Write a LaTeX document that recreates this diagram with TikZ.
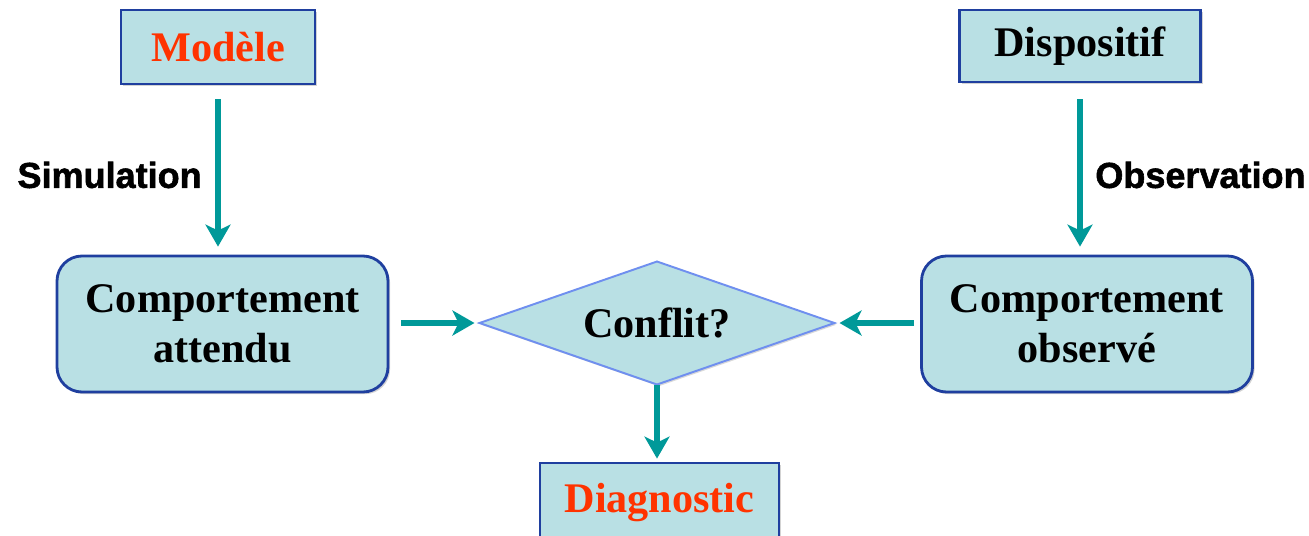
\documentclass[tikz,border=0pt]{standalone}
\usepackage{fontspec}
\setmainfont{Liberation Serif}
\newfontfamily\labelfont[BoldFeatures={FakeBold=1.6}]{Liberation Sans}
\definecolor{boxfill}{HTML}{B9E0E4}
\definecolor{boxdraw}{HTML}{1F3F9F}
\definecolor{diamdraw}{HTML}{6F8FEF}
\definecolor{arrowteal}{HTML}{009999}
\definecolor{redtext}{HTML}{FF3300}
\usetikzlibrary{shapes.geometric, arrows.meta, shadows}
\tikzset{
	boxnode/.style={
			rectangle,
			draw=boxdraw,
			fill=boxfill,
			line width=1.6pt,
			font=\bfseries\fontsize{24}{28.5}\selectfont,
			align=center,
			inner sep=0pt,
			drop shadow={shadow xshift=1.2pt, shadow yshift=-1.2pt, opacity=0.35}
		},
	titlenode/.style={
			boxnode,
			text=redtext
		},
	roundnode/.style={
			boxnode,
			rounded corners=0.5cm,
			minimum width=6.62cm,
			minimum height=2.72cm
		},
	decisionnode/.style={
			diamond,
			aspect=2.9,
			draw=diamdraw,
			fill=boxfill,
			line width=1.1pt,
			inner sep=0pt,
			outer sep=0pt,
			minimum width=7.1cm,
			minimum height=2.46cm,
			font=\bfseries\fontsize{24}{28.5}\selectfont,
			drop shadow={shadow xshift=1pt, shadow yshift=-1pt, opacity=0.3}
		},
	flowlabel/.style={
			font=\labelfont\bfseries\fontsize{20.5}{24}\selectfont,
			inner sep=0pt
		},
	flowarrow/.style={
			draw=arrowteal,
			line width=3.4pt,
			-{Stealth[length=4.4mm, width=5mm, inset=1.2mm]}
		}
}
\begin{document}
\begin{tikzpicture}
\useasboundingbox (0,0) rectangle (26.18,-10.7);
\node[titlenode, minimum width=3.88cm, minimum height=1.48cm] (modele) at (4.36,-0.94) {Modèle};
\node[boxnode, minimum width=4.82cm, minimum height=1.44cm] (dispositif) at (21.6,-0.92) {Dispositif};
\node[roundnode] (attendu) at (4.45,-6.48) {Comportement\\attendu};
\node[roundnode] (observe) at (21.74,-6.48) {Comportement\\observé};
\node[decisionnode] (conflit) at (13.14,-6.46) {Conflit?};
\node[titlenode, minimum width=4.78cm, minimum height=1.6cm] (diagnostic) at (13.19,-10.06) {Diagnostic};

\node[flowlabel, anchor=east] (simulation) at (4.04,-3.5) {Simulation};
\node[flowlabel, anchor=west] (observation) at (21.9,-3.5) {Observation};

\draw[flowarrow, shorten <=0.28cm, shorten >=0.16cm] (modele.south) -- (modele.south |- attendu.north);
\draw[flowarrow, shorten <=0.32cm, shorten >=0.16cm] (dispositif.south) -- (dispositif.south |- observe.north);
\draw[flowarrow, shorten <=0.24cm, shorten >=0.1cm] (attendu.east |- conflit.west) -- (conflit.west);
\draw[flowarrow, shorten <=0.12cm, shorten >=0.1cm] (observe.west |- conflit.east) -- (conflit.east);
\draw[flowarrow, shorten >=0.06cm] (conflit.south) -- (conflit.south |- diagnostic.north);
\end{tikzpicture}
\end{document}
